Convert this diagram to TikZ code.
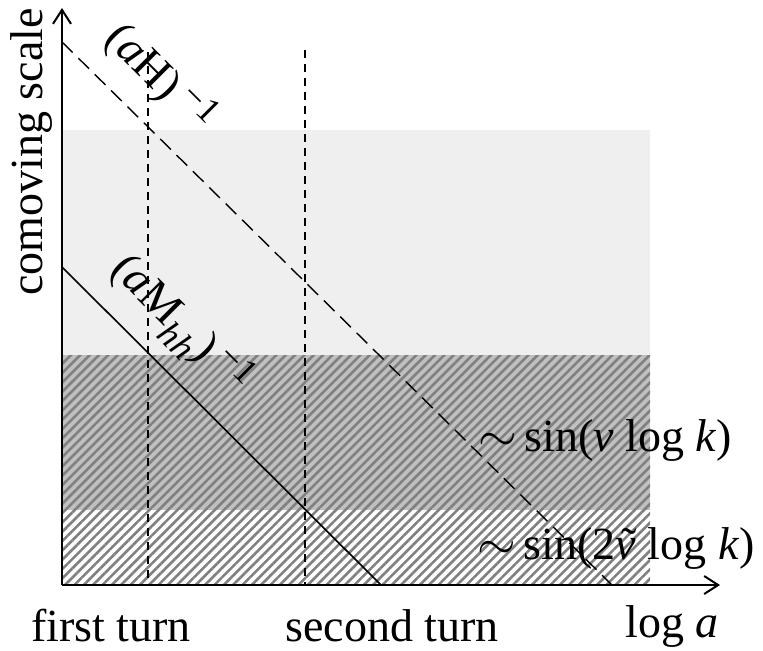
\documentclass[tikz,border=0pt]{standalone}
\usepackage{fontspec}
\setmainfont{Liberation Serif}
\usetikzlibrary{arrows.meta,patterns.meta}
\definecolor{lightband}{HTML}{EFEFEF}
\definecolor{darkband}{HTML}{C0C0C0}
\definecolor{hatchgray}{HTML}{808080}
\newcommand{\vi}[1]{\textit{#1}}
\newcommand{\smallsz}{\fontsize{18}{20}\selectfont}
\newcommand{\inv}{\raisebox{0.3em}{\smallsz −1}}
\newcommand{\nutilde}{{\ooalign{\vi{ν}\cr\hidewidth\kern0.12em˜\hidewidth\cr}}}
\tikzset{
  axis/.style={line width=1pt,-{Straight Barb[length=7pt,width=9pt]}},
  hatch/.style={pattern={Lines[angle=45,distance=3.3pt,line width=1.3pt]},pattern color=hatchgray},
  turnline/.style={line width=0.6pt,dash pattern=on 4pt off 3pt},
  horizon/.style={line width=0.7pt,dash pattern=on 7.5pt off 4pt},
  label/.style={font=\fontsize{23}{27}\selectfont,inner sep=1pt}
}
\begin{document}
\begin{tikzpicture}[x=0.5pt,y=-0.5pt]
\useasboundingbox (0,0) rectangle (763,650);
% bands
\fill[lightband] (62,130) rectangle (650,355);
\fill[darkband] (62,355) rectangle (650,510);
\fill[hatch] (62,355) rectangle (650,585);
% axes
\coordinate (O) at (62,585);
\coordinate (ytop) at (62,8);
\coordinate (xend) at (720,585);
\draw[axis] (O) -- (ytop);
\draw[axis] (O) -- (xend);
% turn lines
\coordinate (t1) at (148,52);
\coordinate (t1b) at (148,585);
\coordinate (t2) at (305,50);
\coordinate (t2b) at (305,585);
\draw[turnline] (t1) -- (t1b);
\draw[turnline] (t2) -- (t2b);
% horizon and mass scale
\coordinate (h0) at (62,42);
\coordinate (h1) at (612,585);
\draw[horizon] (h0) -- (h1);
\coordinate (m0) at (62,267);
\coordinate (m1) at (381,585);
\draw[line width=0.8pt] (m0) -- (m1);
% labels
\node[label,rotate=-45] (lH) at (160,78) {(\vi{a}H)\,\inv};
\node[label,rotate=-45] (lM) at (180,325) {(\vi{a}M\raisebox{-0.3em}{\smallsz\vi{hh}})\,\inv};
\node[label,rotate=90] (ylab) at (32,152) {comoving scale};
\node[label] (first) at (111,626) {first turn};
\node[label] (second) at (392,626) {second turn};
\node[label] (xlab) at (672,626) {log \vi{a}};
\node[label] (s1) at (605,440) {$\sim$\,sin(\vi{ν} log \vi{k})};
\node[label] (s2) at (616,548) {$\sim$\,sin(2\nutilde\ log \vi{k})};
\end{tikzpicture}
\end{document}
